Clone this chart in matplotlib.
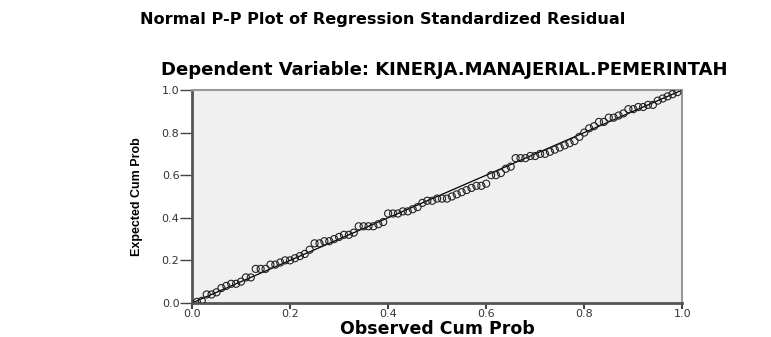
"""Normal P-P plot of regression standardized residuals (SPSS-style)."""
import matplotlib

matplotlib.use("Agg")
import matplotlib.pyplot as plt  # noqa: E402

TITLE = "Normal P-P Plot of Regression Standardized Residual"
SUBTITLE = "Dependent Variable: KINERJA.MANAJERIAL.PEMERINTAH"

observed = [
    0.01, 0.02, 0.03, 0.04, 0.05, 0.06, 0.07, 0.08, 0.09, 0.10,
    0.11, 0.12, 0.13, 0.14, 0.15, 0.16, 0.17, 0.18, 0.19, 0.20,
    0.21, 0.22, 0.23, 0.24, 0.25, 0.26, 0.27, 0.28, 0.29, 0.30,
    0.31, 0.32, 0.33, 0.34, 0.35, 0.36, 0.37, 0.38, 0.39, 0.40,
    0.41, 0.42, 0.43, 0.44, 0.45, 0.46, 0.47, 0.48, 0.49, 0.50,
    0.51, 0.52, 0.53, 0.54, 0.55, 0.56, 0.57, 0.58, 0.59, 0.60,
    0.61, 0.62, 0.63, 0.64, 0.65, 0.66, 0.67, 0.68, 0.69, 0.70,
    0.71, 0.72, 0.73, 0.74, 0.75, 0.76, 0.77, 0.78, 0.79, 0.80,
    0.81, 0.82, 0.83, 0.84, 0.85, 0.86, 0.87, 0.88, 0.89, 0.90,
    0.91, 0.92, 0.93, 0.94, 0.95, 0.96, 0.97, 0.98, 0.99,
]
expected = [
    0.005, 0.01, 0.04, 0.04, 0.05, 0.07, 0.08, 0.09, 0.09, 0.10,
    0.12, 0.12, 0.16, 0.16, 0.16, 0.18, 0.18, 0.19, 0.20, 0.20,
    0.21, 0.22, 0.23, 0.25, 0.28, 0.28, 0.29, 0.29, 0.30, 0.31,
    0.32, 0.32, 0.33, 0.36, 0.36, 0.36, 0.36, 0.37, 0.38, 0.42,
    0.42, 0.42, 0.43, 0.43, 0.44, 0.45, 0.47, 0.48, 0.48, 0.49,
    0.49, 0.49, 0.50, 0.51, 0.52, 0.53, 0.54, 0.55, 0.55, 0.56,
    0.60, 0.60, 0.61, 0.63, 0.64, 0.68, 0.68, 0.68, 0.69, 0.69,
    0.70, 0.70, 0.71, 0.72, 0.73, 0.74, 0.75, 0.76, 0.78, 0.80,
    0.82, 0.83, 0.85, 0.85, 0.87, 0.87, 0.88, 0.89, 0.91, 0.91,
    0.92, 0.92, 0.93, 0.93, 0.95, 0.96, 0.97, 0.98, 0.99,
]
ticks = [0.0, 0.2, 0.4, 0.6, 0.8, 1.0]
tick_labels = ["0.0", "0.2", "0.4", "0.6", "0.8", "1.0"]

plt.rcParams["font.family"] = ["DejaVu Sans"]

fig = plt.figure(figsize=(7.71, 3.37), dpi=100)
ax = fig.add_axes([0.249, 0.101, 0.636, 0.632])
ax.set_facecolor("#f0f0f0")

ax.plot([0, 1], [0, 1], color="black", lw=0.9, zorder=2)
ax.scatter(observed, expected, s=26, facecolors="none", edgecolors="#222222",
           linewidths=0.8, zorder=3)

ax.set_xlim(0, 1)
ax.set_ylim(0, 1)
ax.set_xticks(ticks, tick_labels)
ax.set_yticks(ticks, tick_labels)
ax.tick_params(direction="out", colors="#444444", labelsize=8,
               labelcolor="#333333")
ax.tick_params(axis="x", length=4, width=1.5, pad=0)
ax.tick_params(axis="y", length=9, width=1, pad=0)

for side in ("left", "bottom"):
    ax.spines[side].set_color("#555555")
    ax.spines[side].set_linewidth(2)
for side in ("top", "right"):
    ax.spines[side].set_color("#999999")
    ax.spines[side].set_linewidth(1.5)

ax.set_xlabel("Observed Cum Prob", fontsize=12.5, fontweight="bold", labelpad=1)
ax.set_ylabel("Expected Cum Prob", fontsize=9, fontweight="bold",
              family=["Liberation Sans", "DejaVu Sans"])
ax.yaxis.set_label_coords(-0.10, 0.5)

fig.text(0.497, 0.943, TITLE, ha="center", va="center", fontsize=11.6,
         fontweight="bold")
fig.text(0.576, 0.792, SUBTITLE, ha="center", va="center", fontsize=13,
         fontweight="bold")

fig.savefig("out.png", dpi=100)
